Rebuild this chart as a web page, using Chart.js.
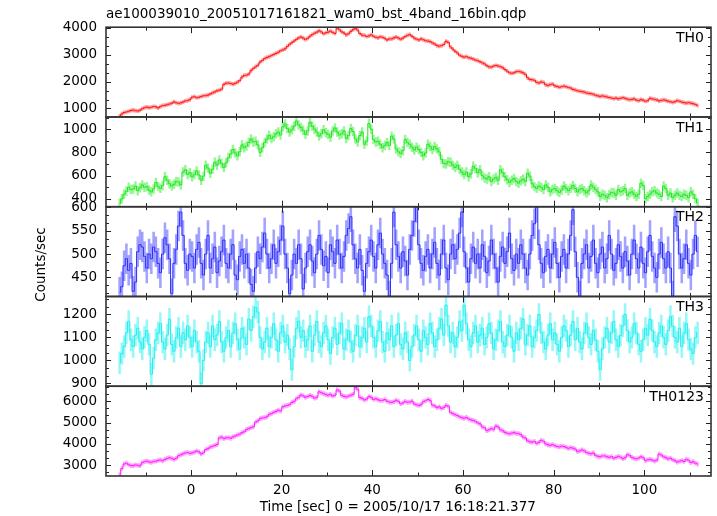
<!DOCTYPE html>
<html><head><meta charset="utf-8">
<script src="https://cdn.jsdelivr.net/npm/chart.js@4.4.1/dist/chart.umd.min.js"></script>
<style>html,body{margin:0;padding:0;background:#fff;}#wrap{width:717px;height:516px;}</style>
</head><body><div id="wrap"><canvas id="c" width="717" height="516"></canvas></div>
<script>
// bin centres (s), 0.5 s bins
const timeSec = [-15.75,-15.25,-14.75,-14.25,-13.75,-13.25,-12.75,-12.25,-11.75,-11.25,-10.75,-10.25,-9.75,-9.25,-8.75,-8.25,
-7.75,-7.25,-6.75,-6.25,-5.75,-5.25,-4.75,-4.25,-3.75,-3.25,-2.75,-2.25,-1.75,-1.25,-0.75,-0.25,
0.25,0.75,1.25,1.75,2.25,2.75,3.25,3.75,4.25,4.75,5.25,5.75,6.25,6.75,7.25,7.75,
8.25,8.75,9.25,9.75,10.25,10.75,11.25,11.75,12.25,12.75,13.25,13.75,14.25,14.75,15.25,15.75,
16.25,16.75,17.25,17.75,18.25,18.75,19.25,19.75,20.25,20.75,21.25,21.75,22.25,22.75,23.25,23.75,
24.25,24.75,25.25,25.75,26.25,26.75,27.25,27.75,28.25,28.75,29.25,29.75,30.25,30.75,31.25,31.75,
32.25,32.75,33.25,33.75,34.25,34.75,35.25,35.75,36.25,36.75,37.25,37.75,38.25,38.75,39.25,39.75,
40.25,40.75,41.25,41.75,42.25,42.75,43.25,43.75,44.25,44.75,45.25,45.75,46.25,46.75,47.25,47.75,
48.25,48.75,49.25,49.75,50.25,50.75,51.25,51.75,52.25,52.75,53.25,53.75,54.25,54.75,55.25,55.75,
56.25,56.75,57.25,57.75,58.25,58.75,59.25,59.75,60.25,60.75,61.25,61.75,62.25,62.75,63.25,63.75,
64.25,64.75,65.25,65.75,66.25,66.75,67.25,67.75,68.25,68.75,69.25,69.75,70.25,70.75,71.25,71.75,
72.25,72.75,73.25,73.75,74.25,74.75,75.25,75.75,76.25,76.75,77.25,77.75,78.25,78.75,79.25,79.75,
80.25,80.75,81.25,81.75,82.25,82.75,83.25,83.75,84.25,84.75,85.25,85.75,86.25,86.75,87.25,87.75,
88.25,88.75,89.25,89.75,90.25,90.75,91.25,91.75,92.25,92.75,93.25,93.75,94.25,94.75,95.25,95.75,
96.25,96.75,97.25,97.75,98.25,98.75,99.25,99.75,100.25,100.75,101.25,101.75,102.25,102.75,103.25,103.75,
104.25,104.75,105.25,105.75,106.25,106.75,107.25,107.75,108.25,108.75,109.25,109.75,110.25,110.75,111.25,111.75];

const th0 = [720,800,850,870,895,925,940,920,905,935,990,1030,1050,1030,1045,1075,1060,1020,1070,1110,
1120,1140,1165,1195,1245,1215,1190,1210,1240,1280,1290,1330,1420,1440,1400,1420,1445,1475,1480,1500,
1540,1580,1620,1660,1680,1720,1900,1940,1950,1930,1905,1935,1980,2040,2170,2230,2240,2280,2410,2490,
2550,2610,2730,2790,2860,2900,2930,2970,3010,3050,3090,3150,3180,3220,3310,3390,3450,3510,3570,3630,
3660,3620,3570,3610,3690,3750,3800,3840,3890,3850,3780,3820,3840,3880,3830,3790,3990,3930,3850,3810,
3740,3780,3870,3930,3980,3920,3790,3730,3720,3680,3700,3740,3690,3650,3630,3670,3650,3610,3550,3590,
3590,3630,3660,3620,3580,3620,3680,3720,3750,3690,3620,3580,3550,3590,3560,3520,3510,3490,3440,3400,
3340,3320,3340,3380,3500,3460,3290,3210,3130,3070,2980,2940,2910,2930,2890,2870,2840,2800,2780,2740,
2700,2660,2590,2550,2540,2580,2600,2580,2560,2520,2450,2390,2330,2310,2330,2370,2380,2360,2330,2270,
2140,2080,2070,2050,1970,1950,1990,1970,1880,1860,1890,1910,1840,1820,1790,1810,1830,1810,1780,1760,
1710,1690,1660,1640,1630,1610,1580,1560,1550,1530,1490,1470,1450,1470,1450,1430,1410,1390,1370,1390,
1360,1380,1400,1380,1350,1330,1340,1360,1310,1290,1330,1310,1270,1290,1380,1360,1340,1320,1280,1300,
1320,1300,1270,1250,1230,1250,1290,1270,1240,1220,1200,1220,1200,1180,1150,1110];

const th1 = [360,400,440,465,500,480,485,510,470,495,520,500,505,475,460,485,540,505,490,515,
590,560,530,510,525,550,545,520,630,650,610,625,590,610,640,605,560,595,690,665,
620,655,715,690,735,705,670,710,755,785,825,795,770,805,865,840,855,885,915,890,
895,865,800,840,885,915,945,920,935,960,975,950,1020,1045,1005,975,995,1025,1070,1035,
1015,990,955,985,1060,1025,1000,975,940,960,995,970,955,930,985,1010,975,950,960,985,
920,945,1005,980,915,890,945,975,870,895,1050,1000,910,890,895,870,840,860,885,860,
940,915,830,805,790,815,910,885,870,845,820,845,825,800,770,795,870,850,825,850,
830,805,740,705,700,720,715,690,670,690,655,630,610,630,590,615,680,660,625,650,
600,580,570,590,550,570,585,560,650,625,590,565,540,560,575,550,535,555,570,550,
620,595,530,505,490,510,500,480,520,500,460,480,490,470,455,475,510,490,470,490,
515,490,460,480,490,470,450,470,520,500,480,460,420,440,430,410,435,455,450,430,
480,460,470,490,430,450,460,440,420,440,535,515,400,420,440,460,470,450,440,420,
510,490,430,450,410,430,450,430,420,440,430,410,460,440,400,365];

const th2 = [418,430,475,490,465,480,420,440,505,520,515,495,470,500,490,515,
505,480,460,500,535,520,490,415,480,510,560,590,540,480,465,500,
495,470,510,525,480,455,500,540,470,490,515,460,485,505,530,480,
470,500,520,455,445,495,510,480,500,470,435,420,470,505,490,515,
545,500,470,490,520,480,505,530,560,500,470,415,455,500,480,520,
490,425,470,505,520,485,460,500,540,510,475,495,460,520,505,480,
530,500,470,495,540,555,580,520,490,470,510,465,420,480,505,530,
495,470,520,545,500,480,455,410,480,590,520,495,470,505,485,455,
510,540,570,600,520,480,465,495,510,470,500,525,480,455,500,530,
470,445,500,520,490,510,545,590,505,470,440,490,515,480,500,470,
520,495,460,485,530,500,470,440,495,515,480,505,545,490,465,500,
480,520,500,470,455,500,540,565,600,520,480,460,495,510,470,500,
525,480,450,495,510,470,500,540,595,505,450,410,480,500,520,470,
495,530,480,460,500,515,470,490,540,500,465,480,520,495,470,505,
485,455,500,530,490,470,515,480,460,505,540,495,470,450,500,525,
490,470,505,470,410,580,560,500,470,490,520,480,455,500,540,505];

const th3 = [990,1030,1060,1120,1170,1090,1060,1110,1140,1080,1050,1100,1130,1070,940,1010,
1090,1120,1160,1080,1050,1110,1180,1070,1040,1100,1140,1060,1120,1090,1150,1100,
1060,1130,1080,1040,900,1000,1080,1120,1060,1150,1090,1110,1170,1080,1040,1100,
1130,1060,1120,1160,1090,1050,1140,1100,1070,1180,1130,1190,1230,1210,1100,1050,
1080,1140,1060,1100,1160,1090,1040,1120,1150,1080,1110,1050,960,1060,1140,1170,
1100,1130,1060,1090,1150,1040,1110,1170,1080,1060,1120,1150,1090,1030,1100,1140,
1070,1120,1160,1050,1090,1130,1080,1040,1110,1150,1060,1100,1140,1080,1190,1150,
1100,1060,1130,1170,1080,1040,1120,1090,1150,1060,1110,1160,1070,1050,1120,1080,
1000,1060,1110,1150,1090,1040,1130,1100,1070,1160,1120,1060,1090,1140,1180,1110,
1240,1150,1080,1120,1060,1100,1170,1130,1240,1160,1090,1060,1120,1150,1080,1110,
1140,1070,1100,1160,1120,1050,1090,1130,1170,1080,1060,1110,1150,1100,1040,1120,
1090,1140,1180,1070,1110,1150,1060,1100,1130,1200,1120,1080,1050,1110,1160,1090,
1120,1070,1040,1100,1150,1130,1060,1110,1170,1090,1140,1080,1050,1120,1160,1100,
1070,1130,1090,1040,960,1050,1100,1140,1080,1120,1170,1090,1060,1110,1150,1200,
1130,1080,1100,1160,1120,1070,1040,1090,1140,1110,1180,1130,1080,1060,1120,1150,
1100,1070,1130,1190,1150,1100,1080,1140,1060,1120,1160,1090,1050,1030,1100,1120];

const th0123 = [2560,2850,3060,3100,3030,2990,2980,3020,3000,2980,3130,3170,3200,3160,3140,3180,3190,3230,3250,3210,
3280,3320,3360,3320,3280,3320,3450,3490,3540,3580,3600,3560,3580,3620,3670,3630,3530,3590,3740,3780,
3850,3890,3930,3970,4280,4320,4250,4290,4300,4260,4330,4370,4420,4460,4530,4570,4680,4720,4760,4800,
5020,5080,5180,5220,5230,5270,5380,5420,5480,5520,5580,5540,5740,5780,5800,5840,5940,5980,6120,6180,
6290,6250,6180,6220,6270,6230,6140,6180,6440,6400,6350,6310,6280,6320,6240,6280,6530,6470,6270,6230,
6200,6240,6280,6320,6640,6560,6170,6130,6060,6100,6220,6180,6080,6120,6070,6030,6040,6080,6000,5960,
5940,5980,6040,6000,5880,5920,5990,5950,5960,6000,5870,5830,5800,5840,5980,6020,6080,6040,5820,5780,
5700,5740,5660,5700,5800,5760,5480,5420,5370,5330,5270,5230,5200,5240,5170,5130,5100,5060,4980,4940,
4800,4760,4620,4660,4720,4680,4840,4800,4660,4620,4540,4500,4470,4510,4530,4490,4480,4440,4320,4280,
4140,4100,4080,4120,4030,4070,4170,4130,4000,3960,3930,3970,3920,3880,3860,3900,3880,3840,3790,3830,
3800,3760,3640,3680,3720,3680,3600,3560,3540,3580,3460,3420,3400,3440,3440,3400,3370,3410,3330,3370,
3420,3380,3310,3350,3500,3460,3370,3330,3300,3340,3400,3360,3220,3260,3280,3240,3200,3240,3520,3480,
3400,3360,3300,3340,3260,3220,3150,3190,3220,3180,3280,3240,3130,3170,3100,3060];

const panelNames = ['TH0', 'TH1', 'TH2', 'TH3', 'TH0123'];
const halfErr = [65, 38, 32, 47, 95];
const yMin = [685, 332, 409, 888, 2500];
const yMax = [4025, 1105, 601.5, 1278, 6700];
const yMajor = [1000, 200, 50, 100, 1000];
const xMajorTicks = [0, 20, 40, 60, 80, 100];

const series = [th0, th1, th2, th3, th0123];
const lineColors = ['#ff1010', '#1ee61e', '#2b2bff', '#22eeee', '#ff1aff'];
const barColors = ['rgba(255,90,90,0.6)', 'rgba(80,240,80,0.6)', 'rgba(100,100,255,0.6)', 'rgba(90,245,245,0.65)', 'rgba(255,100,255,0.6)'];
const barWidths = [1.6, 1.7, 1.9, 1.9, 1.6];
const yMinorDiv = [3, 2, 3, 3, 3];
const FONT = 'DejaVu Sans';

const datasets = [];
series.forEach((vals, k) => {
  datasets.push({
    type: 'bar', label: panelNames[k] + ' err',
    data: timeSec.map((t, i) => ({ x: t, y: [vals[i] - halfErr[k], vals[i] + halfErr[k]] })),
    xAxisID: 'x', yAxisID: 'y' + k, backgroundColor: barColors[k], borderWidth: 0,
    barThickness: barWidths[k], grouped: false, order: 2
  });
  datasets.push({
    type: 'line', label: panelNames[k],
    data: timeSec.map((t, i) => ({ x: t, y: vals[i] })),
    xAxisID: 'x', yAxisID: 'y' + k, borderColor: lineColors[k], borderWidth: 1,
    pointRadius: 0, stepped: 'middle', fill: false, order: 1
  });
});

const scales = {
  x: {
    type: 'linear', position: 'bottom', min: -18.75, max: 114.7, offset: false,
    border: { display: false }, grid: { display: false, drawTicks: false },
    afterBuildTicks: (s) => { s.ticks = xMajorTicks.map(v => ({ value: v })); },
    afterFit: (s) => { s.height = 40; },
    ticks: { autoSkip: false, maxRotation: 0, padding: 6, color: '#000', font: { family: FONT, size: 13.5 },
      callback: (v) => String(v) },
    title: { display: true, text: 'Time [sec] 0 = 2005/10/17 16:18:21.377     ', color: '#000',
      font: { family: FONT, size: 13.5 }, padding: { top: 0, bottom: 0.5 } }
  }
};
for (let k = 0; k < 5; k++) {
  const major = yMajor[k];
  scales['y' + k] = {
    type: 'linear', position: 'left', stack: 'panels', stackWeight: 1, weight: 5 - k,
    min: yMin[k], max: yMax[k],
    border: { display: false }, grid: { display: false, drawTicks: false },
    afterBuildTicks: (s) => {
      const t = [];
      for (let v = Math.ceil(yMin[k] / major) * major; v <= yMax[k]; v += major) t.push({ value: v });
      s.ticks = t;
    },
    afterFit: (s) => { s.width = 106; },
    ticks: { autoSkip: false, padding: 9, color: '#000', font: { family: FONT, size: 13.5 },
      callback: (v) => String(v) },
    title: k === 2 ? { display: true, text: 'Counts/sec      ', color: '#000',
      font: { family: FONT, size: 13.5 }, padding: { top: 33, bottom: 0 } } : { display: false }
  };
}

const panelClip = {
  id: 'panelClip',
  beforeDatasetDraw(chart, args) {
    const ys = args.meta.yScale, ca = chart.chartArea, ctx = chart.ctx;
    ctx.save(); ctx.beginPath();
    ctx.rect(ca.left, ys.top, ca.right - ca.left, ys.bottom - ys.top);
    ctx.clip();
  },
  afterDatasetDraw(chart) { chart.ctx.restore(); }
};

const frames = {
  id: 'frames',
  afterDatasetsDraw(chart) {
    const ctx = chart.ctx, xs = chart.scales.x, ca = chart.chartArea;
    ctx.save();
    const seg = (x1, y1, x2, y2) => { ctx.beginPath(); ctx.moveTo(x1, y1); ctx.lineTo(x2, y2); ctx.stroke(); };
    for (let k = 0; k < 5; k++) {
      const ys = chart.scales['y' + k];
      const top = ys.top, bot = ys.bottom;
      ctx.strokeStyle = '#222'; ctx.lineWidth = 1;
      for (let v = Math.ceil(xs.min / 10) * 10; v <= xs.max; v += 10) {
        const px = Math.round(xs.getPixelForValue(v)) + 0.5;
        const len = (v % 20 === 0) ? 6 : 3.5;
        seg(px, top, px, top + len); seg(px, bot, px, bot - len);
      }
      const step = yMajor[k] / yMinorDiv[k];
      for (let j = Math.ceil(yMin[k] / step - 1e-9); j * step <= yMax[k] + 1e-9; j++) {
        const v = j * step;
        const isMajor = j % yMinorDiv[k] === 0;
        const py = Math.round(ys.getPixelForValue(v)) + 0.5;
        const len = isMajor ? 5 : 3;
        seg(ca.left, py, ca.left + len, py); seg(ca.right, py, ca.right - len, py);
      }
      ctx.lineWidth = 1.6; ctx.strokeStyle = '#333';
      ctx.strokeRect(ca.left, top, ca.right - ca.left, bot - top);
      ctx.fillStyle = '#000'; ctx.font = '14px "' + FONT + '"';
      ctx.textAlign = 'right'; ctx.textBaseline = 'middle';
      ctx.fillText(panelNames[k], ca.right - 7, top + 11);
    }
    ctx.restore();
  }
};

new Chart(document.getElementById('c'), {
  type: 'line',
  data: { datasets },
  options: {
    responsive: false, animation: false, devicePixelRatio: 1,
    layout: { padding: { left: 0, right: 6, top: 0, bottom: 0 } },
    plugins: {
      legend: { display: false }, tooltip: { enabled: false },
      title: { display: true, text: 'ae100039010_20051017161821_wam0_bst_4band_16bin.qdp', align: 'start',
        fullSize: false, color: '#000', font: { family: FONT, size: 13.5, weight: 'normal' },
        padding: { top: 6, bottom: 5 } }
    },
    scales
  },
  plugins: [panelClip, frames]
});
</script></body></html>
